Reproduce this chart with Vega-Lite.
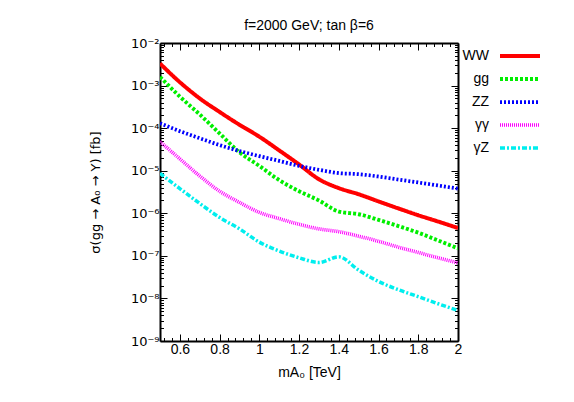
{
  "$schema": "https://vega.github.io/schema/vega-lite/v6.json",
  "width": 298,
  "height": 298,
  "autosize": {"type": "none"},
  "padding": {"left": 160, "top": 43, "right": 116, "bottom": 61},
  "background": "white",
  "config": {"font": "Liberation Sans", "view": {"stroke": null}},
  "title": {"text": "f=2000 GeV; tan β=6", "fontSize": 14, "fontWeight": "normal", "offset": 6, "dy": 2, "color": "black", "font": "Liberation Sans"},
  "data": {"values": [
    {"m": 0.5, "sigma": 3.3e-3, "channel": "WW"},
    {"m": 0.6, "sigma": 1.2e-3, "channel": "WW"},
    {"m": 0.7, "sigma": 5.0e-4, "channel": "WW"},
    {"m": 0.8, "sigma": 2.4e-4, "channel": "WW"},
    {"m": 0.9, "sigma": 1.2e-4, "channel": "WW"},
    {"m": 1.0, "sigma": 6.3e-5, "channel": "WW"},
    {"m": 1.1, "sigma": 3.0e-5, "channel": "WW"},
    {"m": 1.2, "sigma": 1.4e-5, "channel": "WW"},
    {"m": 1.3, "sigma": 6.3e-6, "channel": "WW"},
    {"m": 1.4, "sigma": 3.9e-6, "channel": "WW"},
    {"m": 1.5, "sigma": 2.8e-6, "channel": "WW"},
    {"m": 1.6, "sigma": 1.9e-6, "channel": "WW"},
    {"m": 1.7, "sigma": 1.3e-6, "channel": "WW"},
    {"m": 1.8, "sigma": 9.0e-7, "channel": "WW"},
    {"m": 1.9, "sigma": 6.4e-7, "channel": "WW"},
    {"m": 2.0, "sigma": 4.5e-7, "channel": "WW"},
    {"m": 0.5, "sigma": 1.6e-3, "channel": "gg"},
    {"m": 0.6, "sigma": 5.5e-4, "channel": "gg"},
    {"m": 0.7, "sigma": 2.1e-4, "channel": "gg"},
    {"m": 0.8, "sigma": 7.5e-5, "channel": "gg"},
    {"m": 0.9, "sigma": 2.7e-5, "channel": "gg"},
    {"m": 1.0, "sigma": 1.3e-5, "channel": "gg"},
    {"m": 1.1, "sigma": 6.0e-6, "channel": "gg"},
    {"m": 1.2, "sigma": 3.3e-6, "channel": "gg"},
    {"m": 1.3, "sigma": 2.0e-6, "channel": "gg"},
    {"m": 1.4, "sigma": 1.1e-6, "channel": "gg"},
    {"m": 1.5, "sigma": 9.5e-7, "channel": "gg"},
    {"m": 1.6, "sigma": 7.0e-7, "channel": "gg"},
    {"m": 1.7, "sigma": 5.0e-7, "channel": "gg"},
    {"m": 1.8, "sigma": 3.5e-7, "channel": "gg"},
    {"m": 1.9, "sigma": 2.3e-7, "channel": "gg"},
    {"m": 2.0, "sigma": 1.5e-7, "channel": "gg"},
    {"m": 0.5, "sigma": 1.3e-4, "channel": "ZZ"},
    {"m": 0.6, "sigma": 8.5e-5, "channel": "ZZ"},
    {"m": 0.7, "sigma": 5.8e-5, "channel": "ZZ"},
    {"m": 0.8, "sigma": 4.0e-5, "channel": "ZZ"},
    {"m": 0.9, "sigma": 2.9e-5, "channel": "ZZ"},
    {"m": 1.0, "sigma": 2.2e-5, "channel": "ZZ"},
    {"m": 1.1, "sigma": 1.7e-5, "channel": "ZZ"},
    {"m": 1.2, "sigma": 1.3e-5, "channel": "ZZ"},
    {"m": 1.3, "sigma": 1.05e-5, "channel": "ZZ"},
    {"m": 1.4, "sigma": 8.8e-6, "channel": "ZZ"},
    {"m": 1.5, "sigma": 8.3e-6, "channel": "ZZ"},
    {"m": 1.6, "sigma": 7.3e-6, "channel": "ZZ"},
    {"m": 1.7, "sigma": 6.2e-6, "channel": "ZZ"},
    {"m": 1.8, "sigma": 5.3e-6, "channel": "ZZ"},
    {"m": 1.9, "sigma": 4.5e-6, "channel": "ZZ"},
    {"m": 2.0, "sigma": 3.8e-6, "channel": "ZZ"},
    {"m": 0.5, "sigma": 4.8e-5, "channel": "γγ"},
    {"m": 0.6, "sigma": 1.9e-5, "channel": "γγ"},
    {"m": 0.7, "sigma": 7.5e-6, "channel": "γγ"},
    {"m": 0.8, "sigma": 3.3e-6, "channel": "γγ"},
    {"m": 0.9, "sigma": 1.8e-6, "channel": "γγ"},
    {"m": 1.0, "sigma": 1.05e-6, "channel": "γγ"},
    {"m": 1.1, "sigma": 7.5e-7, "channel": "γγ"},
    {"m": 1.2, "sigma": 5.5e-7, "channel": "γγ"},
    {"m": 1.3, "sigma": 4.3e-7, "channel": "γγ"},
    {"m": 1.4, "sigma": 3.7e-7, "channel": "γγ"},
    {"m": 1.5, "sigma": 2.9e-7, "channel": "γγ"},
    {"m": 1.6, "sigma": 2.2e-7, "channel": "γγ"},
    {"m": 1.7, "sigma": 1.6e-7, "channel": "γγ"},
    {"m": 1.8, "sigma": 1.2e-7, "channel": "γγ"},
    {"m": 1.9, "sigma": 9.0e-8, "channel": "γγ"},
    {"m": 2.0, "sigma": 6.8e-8, "channel": "γγ"},
    {"m": 0.5, "sigma": 8.7e-6, "channel": "γZ"},
    {"m": 0.6, "sigma": 3.8e-6, "channel": "γZ"},
    {"m": 0.7, "sigma": 1.7e-6, "channel": "γZ"},
    {"m": 0.8, "sigma": 8.0e-7, "channel": "γZ"},
    {"m": 0.9, "sigma": 4.3e-7, "channel": "γZ"},
    {"m": 1.0, "sigma": 2.1e-7, "channel": "γZ"},
    {"m": 1.1, "sigma": 1.3e-7, "channel": "γZ"},
    {"m": 1.2, "sigma": 9.0e-8, "channel": "γZ"},
    {"m": 1.3, "sigma": 7.0e-8, "channel": "γZ"},
    {"m": 1.4, "sigma": 9.5e-8, "channel": "γZ"},
    {"m": 1.5, "sigma": 4.6e-8, "channel": "γZ"},
    {"m": 1.6, "sigma": 2.5e-8, "channel": "γZ"},
    {"m": 1.7, "sigma": 1.6e-8, "channel": "γZ"},
    {"m": 1.8, "sigma": 1.1e-8, "channel": "γZ"},
    {"m": 1.9, "sigma": 7.5e-9, "channel": "γZ"},
    {"m": 2.0, "sigma": 5.2e-9, "channel": "γZ"}
  ]},
  "layer": [
    {
      "mark": {"type": "line", "interpolate": "monotone", "clip": true},
      "encoding": {
        "x": {"field": "m", "type": "quantitative",
          "scale": {"domain": [0.5, 2], "nice": false, "zero": false},
          "axis": {"orient": "bottom", "title": "mA₀ [TeV]", "titleFontSize": 14, "titleFontWeight": "normal", "titleColor": "black", "titlePadding": 6,
            "values": [0.52,0.56,0.6,0.64,0.68,0.72,0.76,0.8,0.84,0.88,0.92,0.96,1.0,1.04,1.08,1.12,1.16,1.2,1.24,1.28,1.32,1.36,1.4,1.44,1.48,1.52,1.56,1.6,1.64,1.68,1.72,1.76,1.8,1.84,1.88,1.92,1.96,2.0],
            "labelExpr": "abs(datum.value*5 - round(datum.value*5)) < 0.001 ? format(datum.value, '.1~f') : ''",
            "labelFontSize": 14, "labelColor": "black", "labelPadding": 8, "labelOverlap": false, "labelFlush": false,
            "tickSize": {"condition": {"test": "abs(datum.value*5 - round(datum.value*5)) < 0.001", "value": -7}, "value": -3.5},
            "tickColor": "black", "tickWidth": 1, "domainColor": "black", "domainWidth": 2, "grid": false}
        },
        "y": {"field": "sigma", "type": "quantitative",
          "scale": {"type": "log", "domain": [1e-9, 1e-2], "nice": false},
          "axis": {"orient": "left", "title": "σ(gg → A₀ → Y) [fb]", "titleFont": "DejaVu Sans", "titleFontSize": 13, "titleFontWeight": "normal", "titleColor": "black", "titlePadding": 28,
            "values": [1e-9,2e-9,3e-9,4e-9,5e-9,6e-9,7e-9,8e-9,9e-9,1e-8,2e-8,3e-8,4e-8,5e-8,6e-8,7e-8,8e-8,9e-8,1e-7,2e-7,3e-7,4e-7,5e-7,6e-7,7e-7,8e-7,9e-7,1e-6,2e-6,3e-6,4e-6,5e-6,6e-6,7e-6,8e-6,9e-6,1e-5,2e-5,3e-5,4e-5,5e-5,6e-5,7e-5,8e-5,9e-5,1e-4,2e-4,3e-4,4e-4,5e-4,6e-4,7e-4,8e-4,9e-4,1e-3,2e-3,3e-3,4e-3,5e-3,6e-3,7e-3,8e-3,9e-3,1e-2],
            "labelExpr": "abs(log(datum.value)/LN10 - round(log(datum.value)/LN10)) < 0.001 ? '10' + ['⁻⁹','⁻⁸','⁻⁷','⁻⁶','⁻⁵','⁻⁴','⁻³','⁻²'][round(log(datum.value)/LN10)+9] : ''",
            "labelFont": "DejaVu Sans", "labelFontSize": 13, "labelColor": "black", "labelPadding": 8, "labelOverlap": false, "labelFlush": false,
            "tickSize": {"condition": {"test": "abs(log(datum.value)/LN10 - round(log(datum.value)/LN10)) < 0.001", "value": -7}, "value": -3.5},
            "tickColor": "black", "tickWidth": 1, "domainColor": "black", "domainWidth": 2, "grid": false}
        },
        "color": {"field": "channel", "type": "nominal",
          "scale": {"domain": ["WW", "gg", "ZZ", "γγ", "γZ"], "range": ["#ff0000", "#00ee00", "#0000ff", "#ff00ff", "#00eeee"]},
          "legend": {"title": null, "orient": "none", "legendX": 348, "legendY": 1, "symbolType": "M-2,0L2,0", "symbolSize": 400,
            "labelAlign": "right", "labelOffset": -43, "labelFontSize": 14, "labelColor": "black", "labelFont": "Liberation Sans", "rowPadding": 3, "padding": 0}
        },
        "strokeDash": {"field": "channel", "type": "nominal",
          "scale": {"domain": ["WW", "gg", "ZZ", "γγ", "γZ"], "range": [[1, 0], [3, 2], [2, 2], [1, 1], [5, 2, 2, 2]]}},
        "strokeWidth": {"field": "channel", "type": "nominal",
          "scale": {"domain": ["WW", "gg", "ZZ", "γγ", "γZ"], "range": [4, 3.5, 3, 3, 3.5]}}
      }
    },
    {
      "mark": {"type": "line", "opacity": 0},
      "encoding": {
        "x": {"field": "m", "type": "quantitative",
          "axis": {"orient": "top", "title": null, "labels": false,
            "values": [0.52,0.56,0.6,0.64,0.68,0.72,0.76,0.8,0.84,0.88,0.92,0.96,1.0,1.04,1.08,1.12,1.16,1.2,1.24,1.28,1.32,1.36,1.4,1.44,1.48,1.52,1.56,1.6,1.64,1.68,1.72,1.76,1.8,1.84,1.88,1.92,1.96,2.0],
            "tickSize": {"condition": {"test": "abs(datum.value*5 - round(datum.value*5)) < 0.001", "value": -7}, "value": -3.5},
            "tickColor": "black", "tickWidth": 1, "domainColor": "black", "domainWidth": 2, "grid": false}
        },
        "y": {"field": "sigma", "type": "quantitative",
          "axis": {"orient": "right", "title": null, "labels": false,
            "values": [1e-9,2e-9,3e-9,4e-9,5e-9,6e-9,7e-9,8e-9,9e-9,1e-8,2e-8,3e-8,4e-8,5e-8,6e-8,7e-8,8e-8,9e-8,1e-7,2e-7,3e-7,4e-7,5e-7,6e-7,7e-7,8e-7,9e-7,1e-6,2e-6,3e-6,4e-6,5e-6,6e-6,7e-6,8e-6,9e-6,1e-5,2e-5,3e-5,4e-5,5e-5,6e-5,7e-5,8e-5,9e-5,1e-4,2e-4,3e-4,4e-4,5e-4,6e-4,7e-4,8e-4,9e-4,1e-3,2e-3,3e-3,4e-3,5e-3,6e-3,7e-3,8e-3,9e-3,1e-2],
            "tickSize": {"condition": {"test": "abs(log(datum.value)/LN10 - round(log(datum.value)/LN10)) < 0.001", "value": -7}, "value": -3.5},
            "tickColor": "black", "tickWidth": 1, "domainColor": "black", "domainWidth": 2, "grid": false}
        }
      }
    }
  ],
  "resolve": {"axis": {"x": "independent", "y": "independent"}}
}
